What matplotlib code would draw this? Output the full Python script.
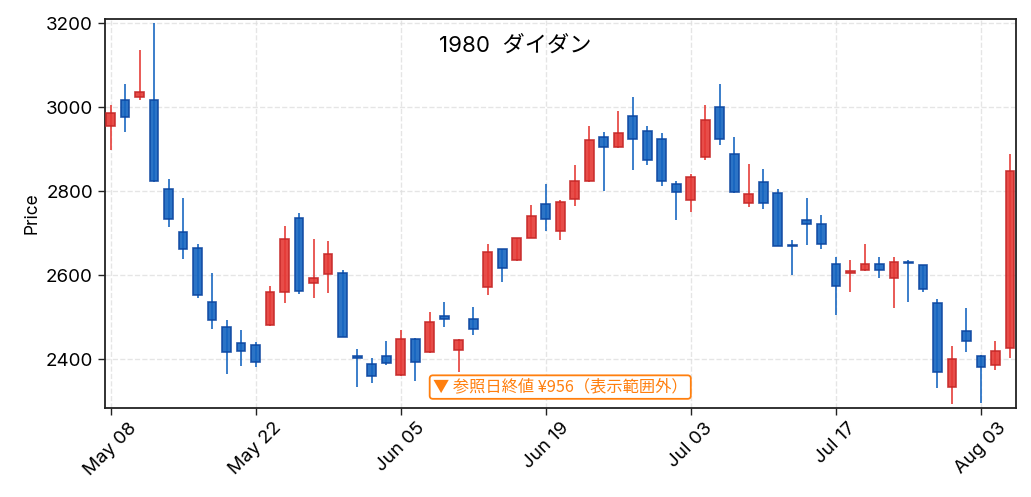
import matplotlib
matplotlib.use("Agg")
import matplotlib.pyplot as plt
import numpy as np
import pandas as pd

plt.rcParams['font.family'] = ['Inter', 'Noto Sans CJK JP', 'DejaVu Sans']

# 取引日 (2015, 海の日 7/20 は休場)
dates = pd.bdate_range('2015-05-08', '2015-08-05')
dates = dates[dates != pd.Timestamp('2015-07-20')]

opens = [2956, 3017, 3025, 3017, 2804, 2702, 2664, 2536, 2476, 2438,
         2433, 2480, 2559, 2736, 2580, 2602, 2606, 2406, 2387, 2407,
         2361, 2448, 2417, 2502, 2422, 2496, 2572, 2662, 2635, 2689,
         2770, 2704, 2780, 2823, 2929, 2904, 2979, 2943, 2924, 2818,
         2779, 2881, 3000, 2888, 2771, 2821, 2795, 2671, 2731, 2722,
         2627, 2605, 2611, 2626, 2594, 2632, 2624, 2533, 2333, 2467,
         2408, 2385, 2426]
highs = [3004, 3054, 3135, 3200, 2828, 2784, 2675, 2606, 2492, 2470,
         2440, 2575, 2718, 2747, 2687, 2680, 2613, 2423, 2402, 2444,
         2468, 2449, 2511, 2535, 2447, 2525, 2675, 2663, 2689, 2766,
         2818, 2779, 2861, 2956, 2940, 2990, 3025, 2956, 2939, 2825,
         2841, 3004, 3054, 2928, 2864, 2852, 2806, 2683, 2783, 2744,
         2644, 2637, 2675, 2644, 2644, 2637, 2625, 2544, 2430, 2522,
         2409, 2444, 2889]
lows = [2897, 2940, 3017, 2822, 2714, 2638, 2546, 2471, 2365, 2383,
        2381, 2479, 2533, 2555, 2546, 2557, 2452, 2333, 2344, 2386,
        2360, 2348, 2414, 2476, 2369, 2457, 2552, 2583, 2634, 2688,
        2706, 2683, 2764, 2822, 2800, 2903, 2850, 2863, 2812, 2730,
        2750, 2875, 2909, 2795, 2762, 2757, 2669, 2600, 2671, 2662,
        2506, 2560, 2610, 2593, 2521, 2536, 2560, 2331, 2294, 2417,
        2295, 2375, 2402]
closes = [2986, 2977, 3036, 2823, 2733, 2661, 2552, 2492, 2416, 2418,
          2394, 2560, 2686, 2561, 2593, 2650, 2452, 2403, 2360, 2390,
          2448, 2394, 2488, 2495, 2446, 2472, 2655, 2617, 2688, 2740,
          2733, 2774, 2824, 2921, 2905, 2938, 2923, 2873, 2825, 2799,
          2833, 2970, 2923, 2798, 2794, 2772, 2670, 2669, 2721, 2675,
          2575, 2609, 2626, 2611, 2631, 2628, 2566, 2368, 2400, 2442,
          2380, 2419, 2848]

ref_close = 956
title = "1980  ダイダン"

up_face, up_edge = '#e53935', '#c62828'
dn_face, dn_edge = '#1565c0', '#0d47a1'

o = np.array(opens)
h = np.array(highs)
l = np.array(lows)
c = np.array(closes)
x = np.arange(len(o))
up = c >= o

fig = plt.figure(figsize=(10.31, 4.97), dpi=100)
ax = fig.add_axes([0.1016, 0.1797, 0.8836, 0.7821])

# ヒゲ
ax.vlines(x[up], l[up], h[up], color=up_face, lw=1.3, alpha=0.9, zorder=2)
ax.vlines(x[~up], l[~up], h[~up], color=dn_face, lw=1.3, alpha=0.9, zorder=2)

# 実体
body = np.maximum(np.abs(c - o), 1.5)
bottom = np.minimum(o, c)
ax.bar(x[up], body[up], bottom=bottom[up], width=0.6, color=up_face,
       edgecolor=up_edge, linewidth=1.2, alpha=0.9, zorder=3)
ax.bar(x[~up], body[~up], bottom=bottom[~up], width=0.6, color=dn_face,
       edgecolor=dn_edge, linewidth=1.2, alpha=0.9, zorder=3)

rng = h.max() - l.min()
ax.set_ylim(l.min() - 0.011 * rng, h.max() + 0.011 * rng)
ax.set_xlim(-0.4, len(x) - 0.6)

ax.set_yticks([2400, 2600, 2800, 3000, 3200])
tick_pos = list(range(0, len(x), 10))
ax.set_xticks(tick_pos)
ax.set_xticklabels([dates[i].strftime('%b %d') for i in tick_pos], rotation=45)
ax.tick_params(labelsize=13.5, length=5, width=1, color='#222222')
ax.set_ylabel('Price', fontsize=12.5)

ax.grid(True, linestyle='--', color='#dddddd', linewidth=1, alpha=0.75)
ax.set_axisbelow(True)
for s in ax.spines.values():
    s.set_color('#222222')
    s.set_linewidth(1.3)

fig.text(0.5, 0.908, title, ha='center', va='center', fontsize=16)

ax.text(0.5, 0.053, f"▼ 参照日終値 ¥{ref_close}（表示範囲外）",
        transform=ax.transAxes, ha='center', va='center', fontsize=11.7,
        color='#ff7f0e', family=['Noto Sans CJK JP', 'DejaVu Sans'],
        bbox=dict(boxstyle='round,pad=0.2', facecolor='white',
                  edgecolor='#ff7f0e', linewidth=1.3))

fig.savefig('out.png', dpi=100)
